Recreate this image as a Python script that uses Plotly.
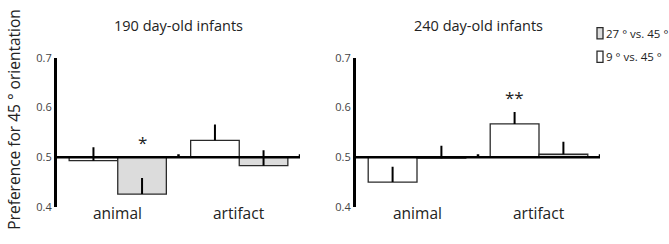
import plotly.graph_objects as go
from plotly.subplots import make_subplots

# ---- data ----
categories = ["animal", "artifact"]
panel_titles = ["190 day-old infants", "240 day-old infants"]
series_names = ["9 ° vs. 45 °", "27 ° vs. 45 °"]

# 190 day-old infants
p190_9 = [0.493, 0.534]
p190_9_err = [0.027, 0.032]
p190_27 = [0.426, 0.483]
p190_27_err = [0.032, 0.031]

# 240 day-old infants
p240_9 = [0.450, 0.567]
p240_9_err = [0.031, 0.024]
p240_27 = [0.498, 0.506]
p240_27_err = [0.025, 0.025]

# significance marks: (panel, category index, series index, label)
sig_marks = [(0, 0, 1, "*"), (1, 1, 0, "**")]

y_ticks = [0.4, 0.5, 0.6, 0.7]
BASELINE = 0.5
y_title = "Preference for 45 ° orientation"

FONT = "Open Sans"
GRAY = "#dcdcdc"
EDGE = "#2a2a2a"
fills = ["white", GRAY]

panels = [
    [(p190_9, p190_9_err), (p190_27, p190_27_err)],
    [(p240_9, p240_9_err), (p240_27, p240_27_err)],
]

fig = make_subplots(rows=1, cols=2)
xpos = list(range(len(categories)))
for pi, panel in enumerate(panels):
    for si, (vals, errs) in enumerate(panel):
        fig.add_trace(go.Bar(
            x=xpos,
            y=[v - BASELINE for v in vals],
            base=BASELINE,
            marker=dict(color=fills[si], line=dict(color=EDGE, width=1.3)),
            error_y=dict(type="data", symmetric=False, array=errs,
                         arrayminus=[0] * len(errs), width=0,
                         thickness=2, color="black"),
            showlegend=False,
            name=series_names[si],
        ), row=1, col=pi + 1)

BARGAP = 0.2
bar_w = (1 - BARGAP) / 2

fig.update_layout(
    width=669, height=244,
    margin=dict(l=0, r=0, t=0, b=0),
    paper_bgcolor="white", plot_bgcolor="white",
    barmode="group", bargap=BARGAP, bargroupgap=0,
    font=dict(family=FONT, color="#222"),
)

xdomains = [[57 / 669, 300 / 669], [356 / 669, 600 / 669]]
ydomain = [1 - 212 / 244, 1 - 53 / 244]
for pi in range(2):
    xa = "xaxis" if pi == 0 else "xaxis2"
    ya = "yaxis" if pi == 0 else "yaxis2"
    fig.layout[xa].update(domain=xdomains[pi], range=[-0.5, len(categories) - 0.5],
                          visible=False, showgrid=False, zeroline=False)
    fig.layout[ya].update(domain=ydomain, range=[y_ticks[0], y_ticks[-1]],
                          tickvals=y_ticks, ticktext=[f"{t:.1f}" for t in y_ticks],
                          showgrid=False, zeroline=False, showline=True,
                          linecolor="black", linewidth=3, ticks="",
                          tickfont=dict(size=11, color="#444", family=FONT))

    xref = "x" if pi == 0 else "x2"
    yref = "y" if pi == 0 else "y2"
    # baseline at 0.5
    fig.add_shape(type="line", xref=xref, yref=yref, x0=-0.5, x1=len(categories) - 0.5,
                  y0=BASELINE, y1=BASELINE, line=dict(color="black", width=2.5))
    # small boundary ticks on the baseline
    for b in range(len(categories)):
        fig.add_shape(type="line", xref=xref, yref=yref, x0=b + 0.5, x1=b + 0.5,
                      y0=BASELINE, y1=BASELINE + 0.006, line=dict(color="black", width=2.5))
    # category labels
    for ci, cat in enumerate(categories):
        fig.add_annotation(x=ci, y=y_ticks[0], xref=xref, yref=yref, text=cat,
                           showarrow=False, xanchor="center", yanchor="middle", yshift=-6,
                           font=dict(size=15.5, color="#222"))
    # panel title
    fig.add_annotation(x=sum(xdomains[pi]) / 2, y=1 - 19 / 244,
                       xref="paper", yref="paper",
                       text=panel_titles[pi], showarrow=False, xanchor="center",
                       yanchor="middle", font=dict(size=14.5, color="#222"))

# significance stars
for pi, ci, si, lab in sig_marks:
    vals, errs = panels[pi][si]
    top = max(BASELINE, vals[ci] + errs[ci])
    xoff = (si - 0.5) * bar_w
    fig.add_annotation(x=ci + xoff, y=top + 0.03, xref="x" if pi == 0 else "x2",
                       yref="y" if pi == 0 else "y2", text=lab, showarrow=False,
                       xanchor="center", yanchor="middle", font=dict(size=17, color="#222"))

# y-axis title
fig.add_annotation(x=14 / 669, y=1 - 119 / 244, xref="paper", yref="paper", text=y_title,
                   textangle=-90, showarrow=False, xanchor="center", yanchor="middle",
                   font=dict(size=15.5, color="#222"))

# legend (gray first, then white)
legend_items = [(series_names[1], GRAY, 27), (series_names[0], "white", 52)]
for name, col, ypx in legend_items:
    fig.add_shape(type="rect", xref="paper", yref="paper",
                  x0=597 / 669, x1=603 / 669, y0=1 - (ypx + 6) / 244, y1=1 - (ypx - 6) / 244,
                  fillcolor=col, line=dict(color=EDGE, width=1.3))
    fig.add_annotation(x=604 / 669, y=1 - ypx / 244, xref="paper", yref="paper",
                       text=name, showarrow=False, xanchor="left", yanchor="middle",
                       font=dict(size=11.5, color="#222"))

fig.write_html("out.html", config={"displayModeBar": False},
               post_script="document.body.style.margin='0px';")
